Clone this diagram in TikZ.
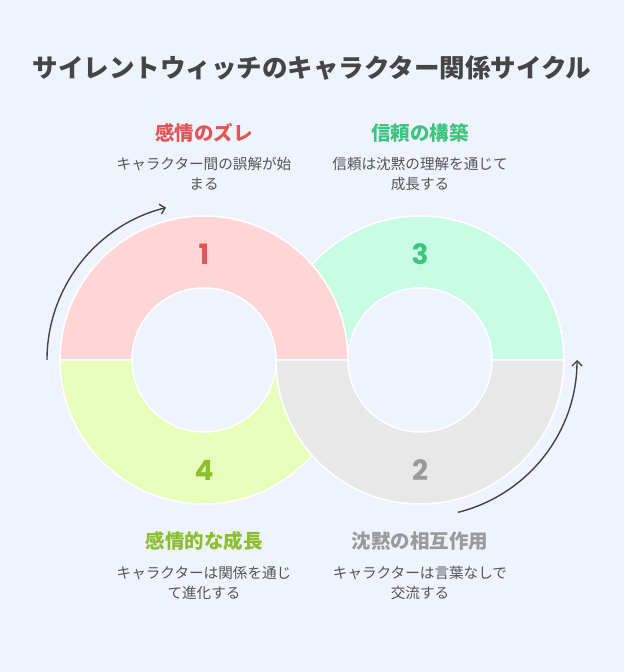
\documentclass[tikz,border=0pt]{standalone}
\usepackage{fontspec}
\setmainfont{Noto Sans CJK JP}
\newfontfamily\numfont{Poppins}
\usetikzlibrary{arrows.meta}
\definecolor{bg}{HTML}{EEF3FE}
\definecolor{redtxt}{HTML}{E15554}
\definecolor{redfill}{HTML}{FFD6D6}
\definecolor{greentxt}{HTML}{3DC47E}
\definecolor{greenfill}{HTML}{C9FCE5}
\definecolor{limetxt}{HTML}{8DBE2F}
\definecolor{limefill}{HTML}{E8FDBB}
\definecolor{graytxt}{HTML}{9A9A9A}
\definecolor{grayfill}{HTML}{E8E8E8}
\definecolor{titlegray}{HTML}{454545}
\definecolor{descgray}{HTML}{555555}
\definecolor{arrowgray}{HTML}{444444}
\tikzset{
	seg/.style={draw=white,line width=1.5pt},
	head/.style={font=\bfseries\fontsize{19.5}{22}\selectfont},
	desc/.style={font=\fontsize{14.6}{20}\selectfont,text=descgray,align=center},
	num/.style={font=\numfont\bfseries\fontsize{28}{28}\selectfont},
	cyc/.style={draw=arrowgray,line width=1.4pt,-{Straight Barb[length=5pt,width=10pt]}}
}
\begin{document}
\begin{tikzpicture}[x=1pt,y=1pt]
		% background
		\fill[bg] (0,0) rectangle (624,672);
		\coordinate (L) at (204,312);
		\coordinate (R) at (420,312);
		
		% ring segments
		\foreach \c/\a/\col in {R/0/greenfill,L/0/redfill,L/180/limefill,R/180/grayfill}
			\path[seg,fill=\col] ([shift={(\a:144)}]\c) arc[start angle=\a,delta angle=180,radius=144]
				-- ([shift={(\a+180:72)}]\c) arc[start angle=\a+180,delta angle=-180,radius=72] -- cycle;
		
		% numbers
		\node[num,text=redtxt] (n1) at (204,418) {1};
		\node[num,text=graytxt] (n2) at (420,202) {2};
		\node[num,text=greentxt] (n3) at (420,418) {3};
		\node[num,text=limetxt] (n4) at (204,202) {4};
		
		% arrows
		\coordinate (a1) at ([shift={(180:157)}]L);
		\draw[cyc] (a1) arc[start angle=180,end angle=104,radius=157];
		\coordinate (a2) at ([shift={(-76:157)}]R);
		\draw[cyc] (a2) arc[start angle=-76,end angle=0,radius=157];
		
		% title
		\node[font=\bfseries\fontsize{25.5}{28}\selectfont,text=titlegray] (title) at (312,604) {サイレントウィッチのキャラクター関係サイクル};
		
		% labels
		\node[head,text=redtxt] (h1) at (204,539) {感情のズレ};
		\node[desc] (d1) at (204,498) {キャラクター間の誤解が始\\まる};
		\node[head,text=greentxt] (h3) at (420,539) {信頼の構築};
		\node[desc] (d3) at (420,498) {信頼は沈黙の理解を通じて\\成長する};
		\node[head,text=limetxt] (h4) at (204,131) {感情的な成長};
		\node[desc] (d4) at (204,89) {キャラクターは関係を通じ\\て進化する};
		\node[head,text=graytxt] (h2) at (420,131) {沈黙の相互作用};
		\node[desc] (d2) at (420,89) {キャラクターは言葉なしで\\交流する};
\end{tikzpicture}
\end{document}
